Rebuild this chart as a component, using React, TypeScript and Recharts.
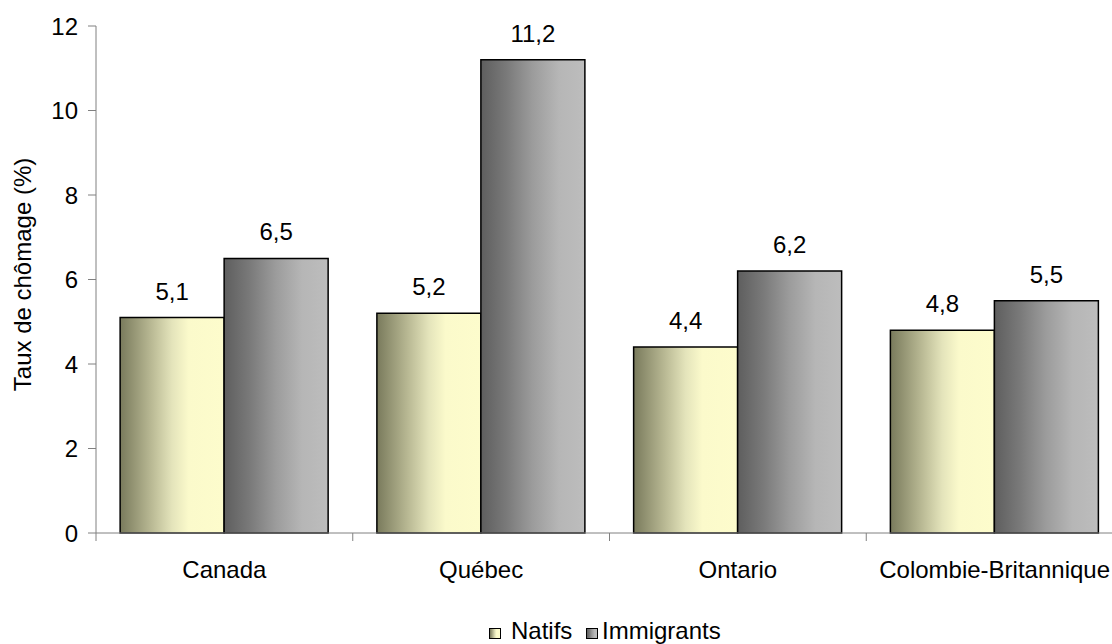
import React from "react";
import { BarChart, Bar, XAxis, YAxis, LabelList } from "recharts";

const regions = ["Canada", "Québec", "Ontario", "Colombie-Britannique"];
const natifs = [5.1, 5.2, 4.4, 4.8];
const immigrants = [6.5, 11.2, 6.2, 5.5];
const yTicks = [0, 2, 4, 6, 8, 10, 12];

const data = regions.map((region, i) => ({
  region,
  natifs: natifs[i],
  immigrants: immigrants[i],
}));

const FONT = "'Liberation Sans', Arial, sans-serif";
const FS = 24;
const AXIS_GREY = "#808080";

const NATIFS_GRAD = "linear-gradient(to right, #797a5c 0%, #b9b994 30%, #e4e4bb 50%, #fbfacb 66%, #fdfccc 100%)";
const IMMIG_GRAD = "linear-gradient(to right, #5e5e5e 0%, #7a7a7a 25%, #9c9c9c 50%, #b6b6b6 75%, #bdbdbd 100%)";

const fmt = (v: any) => String(v).replace(".", ",");

const CategoryTick = (props: any) => {
  const { x, y, payload } = props;
  const half = payload && payload.offset ? payload.offset : 128.4;
  return (
    <g>
      <line x1={x - half} y1={y - 8} x2={x - half} y2={y} stroke={AXIS_GREY} strokeWidth={1} />
      <text x={x} y={y + 37} textAnchor="middle" fontSize={FS} fontFamily={FONT} fill="#000">
        {payload.value}
      </text>
    </g>
  );
};

const YLabel = (props: any) => {
  const vb = props.viewBox || { x: 0, y: 26, width: 96, height: 507 };
  const cx = vb.x + 22;
  const cy = vb.y + vb.height / 2 - 5;
  return (
    <text
      x={cx}
      y={cy}
      transform={`rotate(-90 ${cx} ${cy})`}
      textAnchor="middle"
      dominantBaseline="central"
      fontSize={FS}
      fontFamily={FONT}
      fill="#000"
    >
      Taux de chômage (%)
    </text>
  );
};

export default function App() {
  return (
    <div
      style={{
        position: "absolute",
        left: 0,
        top: 0,
        width: 1112,
        height: 644,
        overflow: "hidden",
        background: "#fff",
        fontFamily: FONT,
      }}
    >
      <BarChart
        width={1140}
        height={644}
        data={data}
        margin={{ top: 26, right: 17, left: 0, bottom: 0 }}
        barCategoryGap="9.4%"
        barGap={0}
      >
        <defs>
          <linearGradient id="gradNatifs" x1="0" y1="0" x2="1" y2="0">
            <stop offset="0%" stopColor="#797a5c" />
            <stop offset="30%" stopColor="#b9b994" />
            <stop offset="50%" stopColor="#e4e4bb" />
            <stop offset="66%" stopColor="#fbfacb" />
            <stop offset="100%" stopColor="#fdfccc" />
          </linearGradient>
          <linearGradient id="gradImmig" x1="0" y1="0" x2="1" y2="0">
            <stop offset="0%" stopColor="#5e5e5e" />
            <stop offset="25%" stopColor="#7a7a7a" />
            <stop offset="50%" stopColor="#9c9c9c" />
            <stop offset="75%" stopColor="#b6b6b6" />
            <stop offset="100%" stopColor="#bdbdbd" />
          </linearGradient>
        </defs>
        <XAxis
          dataKey="region"
          height={111}
          axisLine={{ stroke: AXIS_GREY }}
          tickLine={false}
          tickSize={8}
          tickMargin={0}
          interval={0}
          tick={<CategoryTick />}
        />
        <YAxis
          width={96}
          domain={[0, 12]}
          ticks={yTicks}
          interval={0}
          axisLine={{ stroke: AXIS_GREY }}
          tickLine={{ stroke: AXIS_GREY }}
          tickSize={8}
          tickMargin={10}
          tick={{ fontSize: FS, fontFamily: FONT, fill: "#000" }}
          label={<YLabel />}
        />
        <Bar dataKey="natifs" name="Natifs" fill="url(#gradNatifs)" stroke="#000" strokeWidth={1.5} isAnimationActive={false}>
          <LabelList dataKey="natifs" position="top" offset={18} formatter={fmt} fontSize={FS} fontFamily={FONT} fill="#000" />
        </Bar>
        <Bar dataKey="immigrants" name="Immigrants" fill="url(#gradImmig)" stroke="#000" strokeWidth={1.5} isAnimationActive={false}>
          <LabelList dataKey="immigrants" position="top" offset={18} formatter={fmt} fontSize={FS} fontFamily={FONT} fill="#000" />
        </Bar>
      </BarChart>

      {/* legend */}
      <div style={{ position: "absolute", left: 489, top: 628, width: 10, height: 9, border: "1px solid #000", background: NATIFS_GRAD }} />
      <div style={{ position: "absolute", left: 511, top: 619, fontSize: FS, lineHeight: "24px", color: "#000" }}>Natifs</div>
      <div style={{ position: "absolute", left: 586, top: 628, width: 10, height: 9, border: "1px solid #000", background: IMMIG_GRAD }} />
      <div style={{ position: "absolute", left: 602, top: 619, fontSize: FS, lineHeight: "24px", color: "#000" }}>Immigrants</div>
    </div>
  );
}
